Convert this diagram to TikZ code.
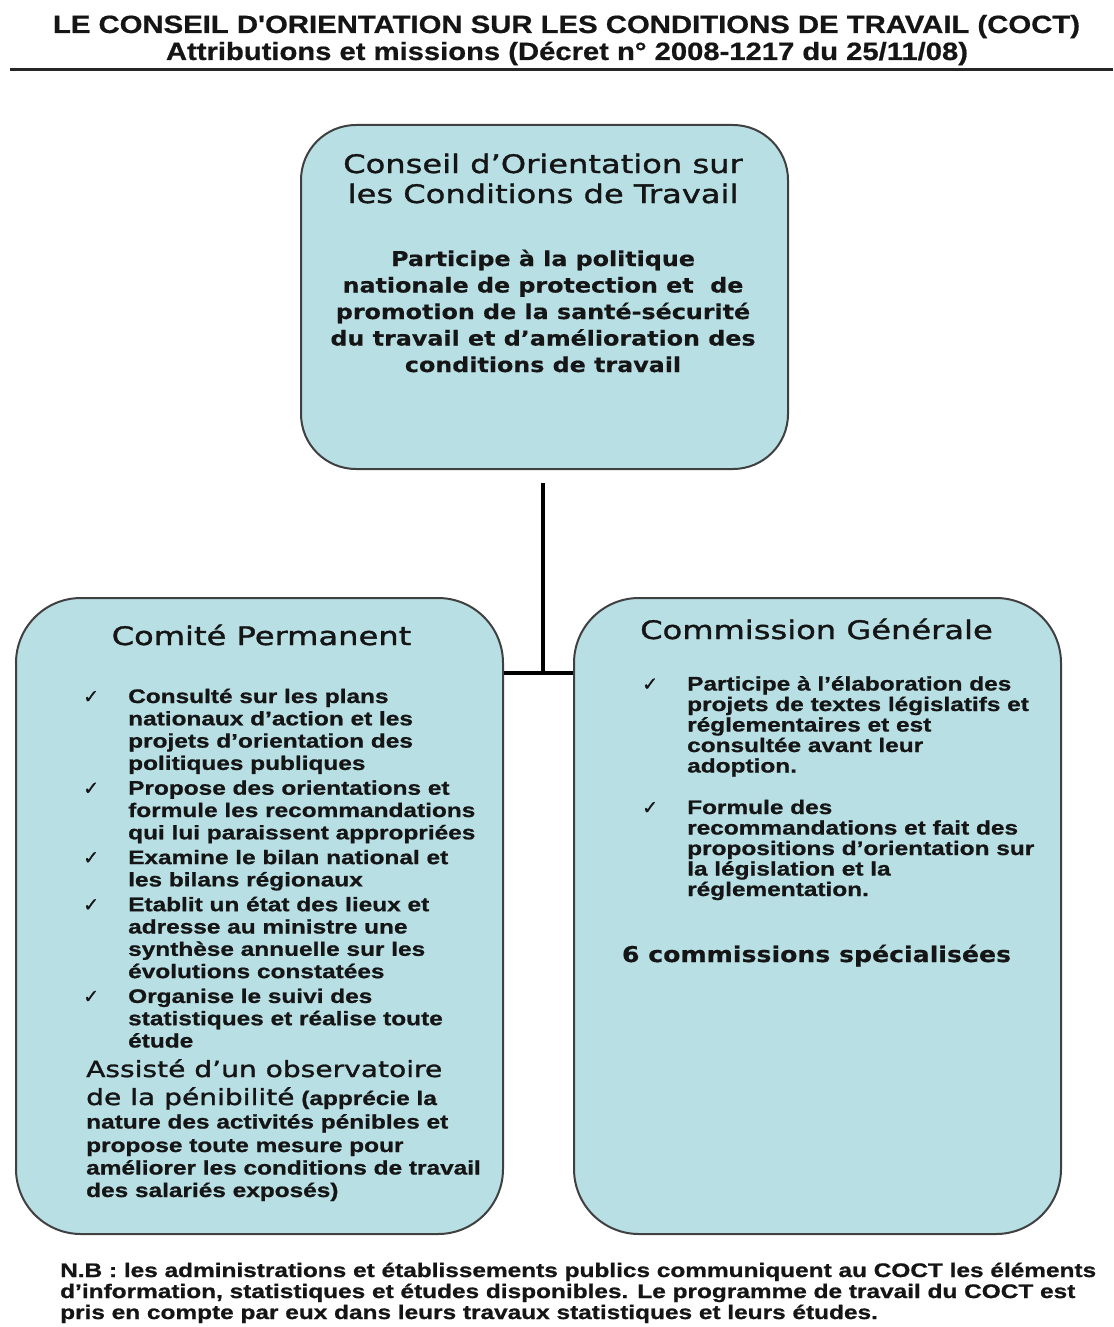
\documentclass[tikz,border=0pt]{standalone}
\usepackage{graphicx}
\usepackage{fontspec}
\setmainfont{Liberation Sans}
\newfontfamily\titlef[FakeBold=0.6]{Liberation Sans}
\newfontfamily\bodyf[FakeStretch=1.245,FakeBold=0.9]{Liberation Sans}
\newfontfamily\headf[FakeStretch=1.26,FakeBold=1.3]{DejaVu Sans}
\newfontfamily\headbf[FakeStretch=1.16,FakeBold=0.5]{DejaVu Sans}
\newfontfamily\symf[FakeBold=0.8]{DejaVu Sans}
\definecolor{boxfill}{HTML}{B8DFE4}
\definecolor{ink}{HTML}{151515}
\begin{document}
\begin{tikzpicture}[x=1pt,y=-1pt,
  box/.style={draw=black!75, line width=2pt, fill=boxfill, rounded corners=#1, inner sep=0pt, minimum width=487pt},
  titletxt/.style={font=\titlef\bfseries\fontsize{25}{30}\selectfont, inner sep=0pt, anchor=base, text=ink},
  body/.style={font=\bodyf\bfseries\fontsize{19.6}{22}\selectfont, inner sep=0pt, anchor=base west, text=ink},
  head/.style={font=\headf\fontsize{25.5}{30}\selectfont, inner sep=0pt, anchor=base, text=ink},
  headbold/.style={font=\headbf\bfseries\fontsize{20.5}{27}\selectfont, inner sep=0pt, anchor=base, text=ink},
  tick/.style={font=\symf\fontsize{19}{19}\selectfont, inner sep=0pt, anchor=base west, text=ink},
  conn/.style={line width=4pt, black}]
\fill[white] (0,0) rectangle (1113,1327);
\useasboundingbox (0,0) rectangle (1113,1327);

% title
\node[titletxt] (t1) at (566.5,33) {\resizebox{1027pt}{\height}{LE CONSEIL D'ORIENTATION SUR LES CONDITIONS DE TRAVAIL (COCT)}};
\node[titletxt] (t2) at (567,60) {\resizebox{802pt}{\height}{Attributions et missions (Décret n° 2008-1217 du 25/11/08)}};
\coordinate (ruleL) at (10,70);
\coordinate (ruleR) at (1113,70);
\draw[line width=3pt, black!85] (ruleL) -- (ruleR);

% boxes
\node[box=55pt, minimum height=344pt] (top) at (544.5,297) {};
\node[box=65pt, minimum height=636pt] (cp) at (259.5,916) {};
\node[box=65pt, minimum height=636pt] (cg) at (817.5,916) {};

% connectors
\coordinate (vtop) at (543,483);
\coordinate (junc) at (543,673);
\draw[conn] (vtop) -- (junc);
\draw[conn] (cp.east |- junc) -- (cg.west |- junc);

% top box text
\node[head] (th1) at (543,173) {Conseil d’Orientation sur};
\node[head] (th2) at (543,203) {les Conditions de Travail};
\foreach \y/\t [count=\i] in {266/{Participe à la politique},
  292.5/{nationale de protection et~ de},
  319/{promotion de la santé-sécurité},
  345.5/{du travail et d’amélioration des},
  372/{conditions de travail}}
  \node[headbold] (tb\i) at (543,\y) {\t};

% left box
\node[head] (cph) at (261.5,645) {Comité Permanent};
\foreach \y [count=\i] in {703,794.7,864.1,911.2,1002.9}
  \node[tick] (cpk\i) at (83,\y) {✓};
\foreach \y/\t [count=\i] in {703/{Consulté sur les plans},
  725.3/{nationaux d’action et les},
  747.6/{projets d’orientation des},
  769.9/{politiques publiques},
  794.7/{Propose des orientations et},
  817/{formule les recommandations},
  839.3/{qui lui paraissent appropriées},
  864.1/{Examine le bilan national et},
  886.4/{les bilans régionaux},
  911.2/{Etablit un état des lieux et},
  933.5/{adresse au ministre une},
  955.8/{synthèse annuelle sur les},
  978.1/{évolutions constatées},
  1002.9/{Organise le suivi des},
  1025.2/{statistiques et réalise toute},
  1047.5/{étude}}
  \node[body] (cpl\i) at (128,\y) {\t};
\node[body, font=\headf\fontsize{22.3}{26}\selectfont] (obs1) at (86,1077) {Assisté d’un observatoire};
\node[body] (obs2) at (86,1105) {{\headf\mdseries\fontsize{22.3}{26}\selectfont de la pénibilité} (apprécie la};
\node[body] (obs3) at (86,1128.5) {nature des activités pénibles et};
\node[body] (obs4) at (86,1152) {propose toute mesure pour};
\node[body] (obs5) at (86,1174.5) {améliorer les conditions de travail};
\node[body] (obs6) at (86,1197) {des salariés exposés)};

% right box
\node[head] (cgh) at (816.5,639) {Commission Générale};
\node[tick] (cgk1) at (642,690.5) {✓};
\node[tick] (cgk2) at (642,814) {✓};
\foreach \y/\t [count=\i] in {690.5/{Participe à l’élaboration des},
  711/{projets de textes législatifs et},
  731.5/{réglementaires et est},
  752/{consultée avant leur},
  772.5/{adoption.},
  814/{Formule des},
  834.5/{recommandations et fait des},
  855/{propositions d’orientation sur},
  875.5/{la législation et la},
  896/{réglementation.}}
  \node[body] (cgl\i) at (687,\y) {\t};
\node[headbold, font=\headbf\bfseries\fontsize{21.7}{26}\selectfont] (cgs) at (816.5,962) {6 commissions spécialisées};

% note
\foreach \y/\t [count=\i] in {1277/{N.B : les administrations et établissements publics communiquent au COCT les éléments},
  1298/{d’information, statistiques et études disponibles. Le programme de travail du COCT est},
  1319/{pris en compte par eux dans leurs travaux statistiques et leurs études.}}
  \node[body] (nb\i) at (60,\y) {\t};
\end{tikzpicture}
\end{document}
